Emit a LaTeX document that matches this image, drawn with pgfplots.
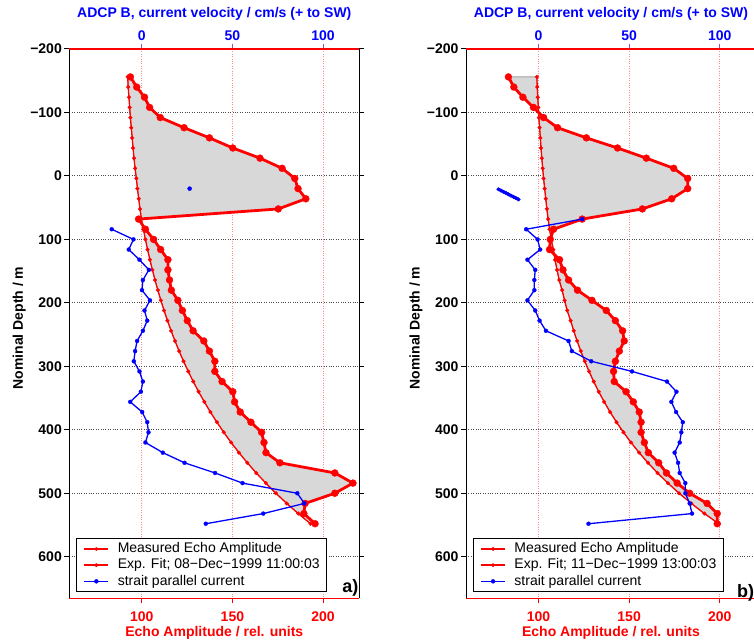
\documentclass[border=0pt]{standalone}
\usepackage{fontspec}
\setmainfont{Liberation Sans}
\usepackage{pgfplots}
\pgfplotsset{compat=1.18}
\usepackage{pgfplotstable}
\usepgfplotslibrary{fillbetween}

\definecolor{fillgray}{RGB}{216,216,216}
\definecolor{edgegray}{RGB}{80,80,80}
\definecolor{topticks}{RGB}{170,70,190}
\newcommand{\fs}{\fontsize{14}{16}\selectfont}

% ---------------- panel a ----------------
\pgfplotstableread{
d E
-156 93.7
-140 97.2
-124 101.5
-108 104.3
-92 110.2
-76 123.3
-60 137.3
-44 150.2
-28 165.2
-12 177.4
4 184.4
20 186.2
36 190.5
52 175.3
68 98.2
84 102.0
100 106.5
116 110.4
132 114.4
148 114.4
164 115.3
180 116.3
196 119.9
212 122.4
228 125.1
244 128.3
260 134.2
276 137.3
292 140.3
308 140.3
324 144.3
340 150.2
356 151.2
372 154.3
388 160.2
404 166.1
420 167.4
436 168.5
452 176.2
468 206.5
484 216.5
500 206.5
516 190.1
532 189.4
548 195.6
}\measA

\pgfplotstableread{
d E
-156 92.2
-140 92.5
-124 92.9
-108 93.3
-92 93.7
-76 94.2
-60 94.7
-44 95.2
-28 95.7
-12 96.3
4 97.0
20 97.6
36 98.3
52 99.0
68 99.8
84 100.86
100 101.99
116 103.19
132 104.47
148 105.84
164 107.30
180 108.85
196 110.51
212 112.28
228 114.16
244 116.17
260 118.31
276 120.60
292 123.03
308 125.63
324 128.39
340 131.34
356 134.49
372 137.84
388 141.41
404 145.22
420 149.28
436 153.61
452 158.23
468 163.15
484 168.40
500 173.99
516 179.96
532 186.31
548 193.09
}\fitA

\pgfplotstableread{
d v
84 -16.6
100 -4.6
116 -7.2
132 -1.3
148 3.9
164 0.6
180 0.1
196 4.5
212 1.5
228 3.0
244 0.6
260 -2.6
276 -3.7
292 -4.4
308 -1.3
324 0.6
340 -0.5
356 -6.4
372 0.2
388 3.0
404 3.7
420 2.0
436 11.6
452 23.6
468 40.4
484 55.6
500 85.8
516 89.7
532 67.0
548 35.3
}\curA

% ---------------- panel b ----------------
\pgfplotstableread{
d E
-156 83.4
-140 86.4
-124 91.4
-108 97.2
-92 102.8
-76 110.5
-60 126.4
-44 143.6
-28 159.5
-12 174.6
4 182.3
20 182.3
36 173.5
52 157.3
68 124.1
84 108.3
100 106.5
116 106.1
132 111.6
148 113.5
164 116.6
180 121.5
196 129.5
212 137.4
228 142.4
244 146.4
260 147.3
276 144.6
292 142.4
308 141.4
324 141.8
340 148.3
356 152.3
372 155.6
388 156.6
404 156.6
420 158.4
436 160.6
452 166.3
468 170.6
484 176.5
500 183.4
516 193.0
532 198.6
548 198.6
}\measB

\pgfplotstableread{
d E
-156 99.1
-140 99.3
-124 99.6
-108 99.9
-92 100.2
-76 100.6
-60 101.0
-44 101.4
-28 101.8
-12 102.3
4 102.8
20 103.4
36 104.0
52 104.6
68 105.3
84 106.1
100 107.0
116 108.2
132 109.1
148 110.2
164 111.4
180 113.0
196 114.4
212 115.8
228 117.72
244 119.44
260 121.30
276 123.32
292 125.51
308 127.88
324 130.45
340 133.23
356 136.25
372 139.51
388 143.05
404 146.88
420 151.03
436 155.52
452 160.39
468 165.67
484 171.39
500 177.57
516 184.28
532 191.55
548 199.42
}\fitB

\pgfplotstableread{
d v
68 24.1
84 -6.8
100 -0.5
116 0.9
132 -6.1
148 -1.8
164 -2.3
180 -2.3
196 -6.1
212 -1.8
228 0.6
244 4.1
260 16.6
276 18.4
292 29.1
308 51.6
324 70.9
340 76.1
356 73.3
372 75.9
388 79.6
404 78.8
420 77.9
436 75.1
452 77.0
468 77.9
484 81.0
500 81.0
516 83.4
532 84.7
548 27.6
}\curB

\pgfplotstableread{
d v
21 -22.1
23 -20.7
25 -19.3
27 -17.9
29 -16.6
31 -15.2
33 -13.8
35 -12.4
37 -11.0
}\segB

\pgfplotsset{
  common/.style={
    scale only axis, width=290pt, height=549.3pt,
    ymin=-200, ymax=665.5, y dir=reverse,
    tick align=outside, major tick length=5pt,
  },
  mainax/.style={
    common,
    xmin=60, xmax=220,
    separate axis lines,
    x axis line style={red, line width=1.2pt},
    y axis line style={black, line width=1pt},
    xtick={100,150,200}, xticklabels={100,150,200}, xtick pos=left,
    ytick={-200,-100,0,100,200,300,400,500,600},
    yticklabels={−200,−100,0,100,200,300,400,500,600},
    yticklabel pos=left,
    xtick style={red, line width=1pt},
    ytick style={black, line width=1pt},
    xmajorgrids, ymajorgrids,
    x grid style={red!45, dotted, line width=0.9pt},
    y grid style={black!70, dotted, line width=0.9pt},
    xticklabel style={red, font=\bfseries\fs, anchor=base, yshift=-18.4pt, inner sep=0pt},
    yticklabel style={black, font=\bfseries\fs, anchor=east, xshift=-2.3pt, inner sep=0pt},
    xlabel={Echo Amplitude / rel. units},
    xlabel style={red, font=\bfseries\fs, at={(axis description cs:0.5,0)}, anchor=base, yshift=-38.4pt, inner sep=0pt},
    ylabel={Nominal Depth / m},
    ylabel style={black, font=\bfseries\fs, at={(axis description cs:-0.16,0.492)}, anchor=base, inner sep=0pt},
  },
  topax/.style={
    common,
    xmin=-40, xmax=120,
    axis x line*=top, axis y line=none,
    x axis line style={red, line width=1.2pt},
    xtick={0,50,100}, xticklabels={0,50,100},
    xtick style={topticks, line width=1pt},
    xticklabel style={blue, font=\bfseries\fs, anchor=base, yshift=4pt, inner sep=0pt},
    xlabel={ADCP B, current velocity / cm/s (+ to SW)},
    xlabel style={blue, font=\bfseries\fs, at={(axis description cs:0.5,1)}, anchor=base, yshift=31.5pt, inner sep=0pt},
    legend cell align=left,
    legend image code/.code={\draw[mark repeat=2,mark phase=2,##1] plot coordinates {(0pt,0pt) (12pt,0pt) (24pt,0pt)};},
    legend style={at={(axis description cs:0.023,0.0115)}, anchor=south west,
      draw=black, line width=1pt, fill=white, inner xsep=6.5pt, inner ysep=2.9pt,
      row sep=1.7pt, column sep=7.5pt,
      nodes={inner sep=0.5pt, text height=10.5pt, text depth=3pt, font=\fs, anchor=west}},
  },
  measst/.style={red, line width=2.8pt, mark=*, mark size=3.5pt, mark options={line width=0.3pt}},
  fitst/.style={red, line width=1.3pt, mark=*, mark size=1.9pt, mark options={line width=0.3pt}},
  curst/.style={blue, line width=1.3pt, mark=*, mark size=2pt, mark options={line width=0.3pt}},
}

\begin{document}
\begin{tikzpicture}
% ===== panel a =====
\begin{axis}[mainax, at={(69.3pt,43.7pt)}, anchor=south west]
\addplot[draw=none, name path=mA] table[x=E,y=d]{\measA};
\addplot[draw=none, name path=fA] table[x=E,y=d]{\fitA};
\addplot[fill=fillgray, draw=edgegray, line width=0.6pt] fill between[of=mA and fA];
\addplot[fitst] table[x=E,y=d]{\fitA};
\addplot[measst] table[x=E,y=d]{\measA};
\end{axis}
\begin{axis}[topax, at={(69.3pt,43.7pt)}, anchor=south west]
\addlegendimage{red, line width=2.8pt, mark=*, mark size=1.8pt, mark options={line width=0.3pt}}
\addlegendentry{Measured Echo Amplitude}
\addlegendimage{red, line width=1.3pt, mark=*, mark size=1.8pt, mark options={line width=0.3pt}}
\addlegendentry{Exp. Fit; 08−Dec−1999 11:00:03}
\addplot[blue, only marks, mark=*, mark size=2pt, forget plot] coordinates {(26.4,20)};
\addplot[curst] table[x=v,y=d]{\curA};
\addlegendentry{strait parallel current}
\end{axis}
% ===== panel b =====
\begin{axis}[mainax, at={(466pt,43.7pt)}, anchor=south west]
\addplot[draw=none, name path=mB] table[x=E,y=d]{\measB};
\addplot[draw=none, name path=fB] table[x=E,y=d]{\fitB};
\addplot[fill=fillgray, draw=edgegray, line width=0.6pt] fill between[of=mB and fB];
\addplot[fitst] table[x=E,y=d]{\fitB};
\addplot[measst] table[x=E,y=d]{\measB};
\end{axis}
\begin{axis}[topax, at={(466pt,43.7pt)}, anchor=south west]
\addlegendimage{red, line width=2.8pt, mark=*, mark size=1.8pt, mark options={line width=0.3pt}}
\addlegendentry{Measured Echo Amplitude}
\addlegendimage{red, line width=1.3pt, mark=*, mark size=1.8pt, mark options={line width=0.3pt}}
\addlegendentry{Exp. Fit; 11−Dec−1999 13:00:03}
\addplot[blue, line width=3pt, mark=*, mark size=1.8pt, mark options={line width=0.3pt}, forget plot] table[x=v,y=d]{\segB};
\addplot[curst] table[x=v,y=d]{\curB};
\addlegendentry{strait parallel current}
\end{axis}
\node[anchor=south east, inner sep=0pt, font=\bfseries\fontsize{18}{20}\selectfont] at (358.5pt,45.3pt) {a)};
\node[anchor=south west, inner sep=0pt, font=\bfseries\fontsize{18}{20}\selectfont] at (737pt,41pt) {b)};
\pgfresetboundingbox
\useasboundingbox (0,0) rectangle (754pt,642pt);
\end{tikzpicture}
\end{document}
